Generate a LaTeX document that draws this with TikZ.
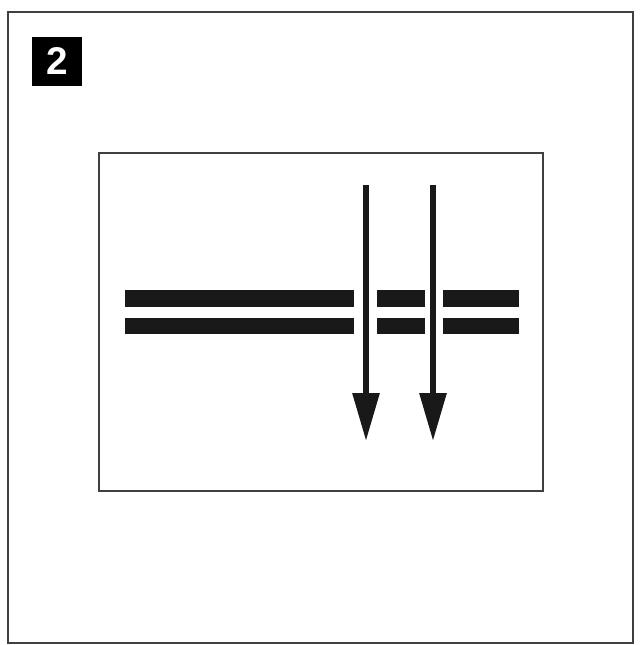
\documentclass[tikz,border=0pt]{standalone}
\usepackage{fontspec}
\setsansfont{Liberation Sans}
\usepackage{tikz}
\usetikzlibrary{arrows.meta}

\tikzset{
	frame/.style={draw=black!75, line width=1.1pt},
	bar/.style={fill=black!90, draw=none},
	downarrow/.style={line width=3.4pt, black!90, -{Triangle[length=0.96cm,width=0.52cm]}},
	numbox/.style={fill=black, text=white, minimum size=1cm, inner sep=0pt,
		font=\sffamily\bfseries\fontsize{22}{22}\selectfont}
}

\begin{document}
\begin{tikzpicture}[x=0.02cm,y=-0.02cm]
					\useasboundingbox (0,0) rectangle (639,645);
					% Frames
					\draw[frame] (8,12) rectangle (633,643);
					\draw[frame] (99,153) rectangle (543,491);
					% Step number
					\node[numbox] (num) at (57,61.5) {2};
					% Double bars, broken where the arrows pass
					\foreach \xa/\xb in {125/354,377/425,443/519}{
						\fill[bar] (\xa,290) rectangle (\xb,307);
						\fill[bar] (\xa,318) rectangle (\xb,334);}
					% Arrows
					\coordinate (a1s) at (366,185);
					\coordinate (a1e) at (366,441);
					\coordinate (a2s) at (433,185);
					\coordinate (a2e) at (433,441);
					\draw[downarrow] (a1s) -- (a1e);
					\draw[downarrow] (a2s) -- (a2e);
				\end{tikzpicture}
\end{document}
